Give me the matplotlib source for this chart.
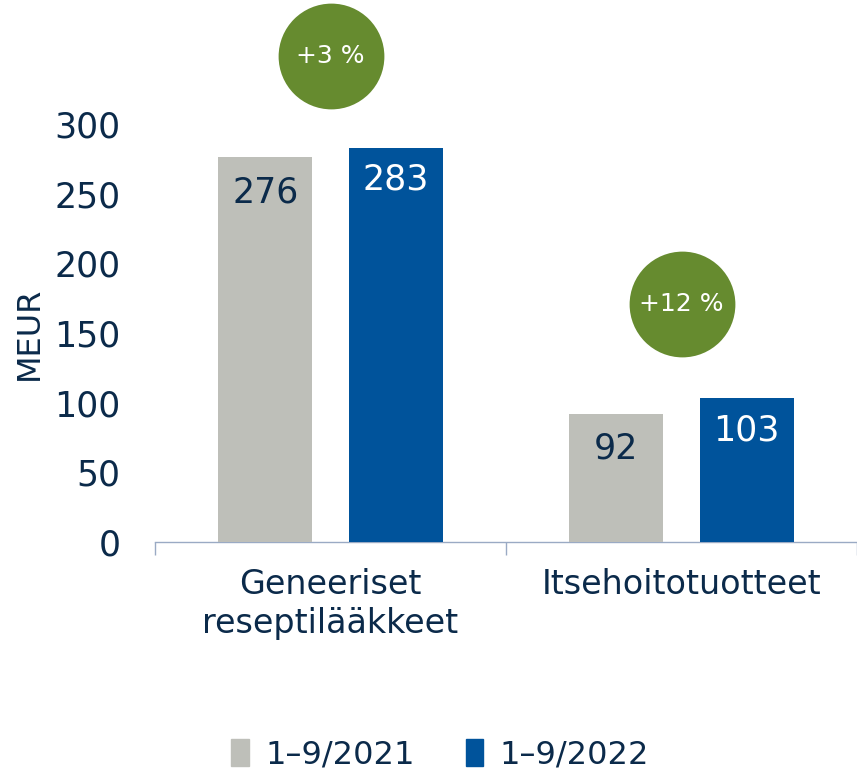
import numpy as np
import matplotlib.pyplot as plt
from matplotlib.patches import Patch

# Data
categories = ['Geneeriset\nreseptilääkkeet', 'Itsehoitotuotteet']
series_names = ['1\u20139/2021', '1\u20139/2022']
values_2021 = [276, 92]
values_2022 = [283, 103]
growth_labels = ['+3 %', '+12 %']

grey = '#BEBFB9'
blue = '#00539B'
green = '#668B2F'
navy = '#0B2A4A'
spine_col = '#9AAAC4'

plt.rcParams['font.family'] = ['DejaVu Sans']

fig = plt.figure(figsize=(8.57, 7.75), dpi=100)
ax = fig.add_axes([155 / 857, 233 / 775, 702 / 857, 418 / 775])

x = np.arange(len(categories))
w = 0.268
off = 0.186
b1 = ax.bar(x - off, values_2021, w, color=grey, zorder=2)
b2 = ax.bar(x + off, values_2022, w, color=blue, zorder=2)

# value labels inside bars
for rect, v in zip(b1, values_2021):
    ax.annotate(str(v), (rect.get_x() + rect.get_width() / 2, v),
                xytext=(0, -25), textcoords='offset points',
                ha='center', va='center', fontsize=25, color=navy)
for rect, v in zip(b2, values_2022):
    ax.annotate(str(v), (rect.get_x() + rect.get_width() / 2, v),
                xytext=(0, -23), textcoords='offset points',
                ha='center', va='center', fontsize=25, color='white')

# growth circles
circle_y = [349, 171]
ax.scatter(x, circle_y, s=5800, color=green, clip_on=False, zorder=3, linewidths=0)
for xi, yi, lab in zip(x, circle_y, growth_labels):
    ax.text(xi, yi, lab, ha='center', va='center', fontsize=18, color='white',
            zorder=4, clip_on=False)

ax.set_xlim(-0.5, 1.477)
ax.set_ylim(0, 300)
ax.set_yticks([0, 50, 100, 150, 200, 250, 300])
ax.tick_params(axis='y', length=0, pad=25, labelsize=25, labelcolor=navy)
ax.set_xticks(x)
ax.set_xticklabels(categories)
ax.tick_params(axis='x', which='major', length=0, pad=19, labelsize=24, labelcolor=navy)
ax.set_xticks([-0.5, 0.5, 1.5], minor=True)
ax.tick_params(axis='x', which='minor', length=9, width=1, color=spine_col, direction='out')

for s in ['top', 'right', 'left']:
    ax.spines[s].set_visible(False)
ax.spines['bottom'].set_color(spine_col)
ax.spines['bottom'].set_linewidth(1)
ax.spines['bottom'].set_zorder(1)

ax.set_ylabel('MEUR', fontsize=23, color=navy)
ax.yaxis.set_label_coords(-0.157, 0.5)

handles = [Patch(color=grey), Patch(color=blue)]
fig.legend(handles, series_names, loc='center', bbox_to_anchor=(440 / 857, 20 / 775),
           ncol=2, frameon=False, fontsize=23, labelcolor=navy,
           handlelength=0.55, handleheight=0.9, handletextpad=0.5, columnspacing=1.6)

fig.savefig('out.png', dpi=100)
